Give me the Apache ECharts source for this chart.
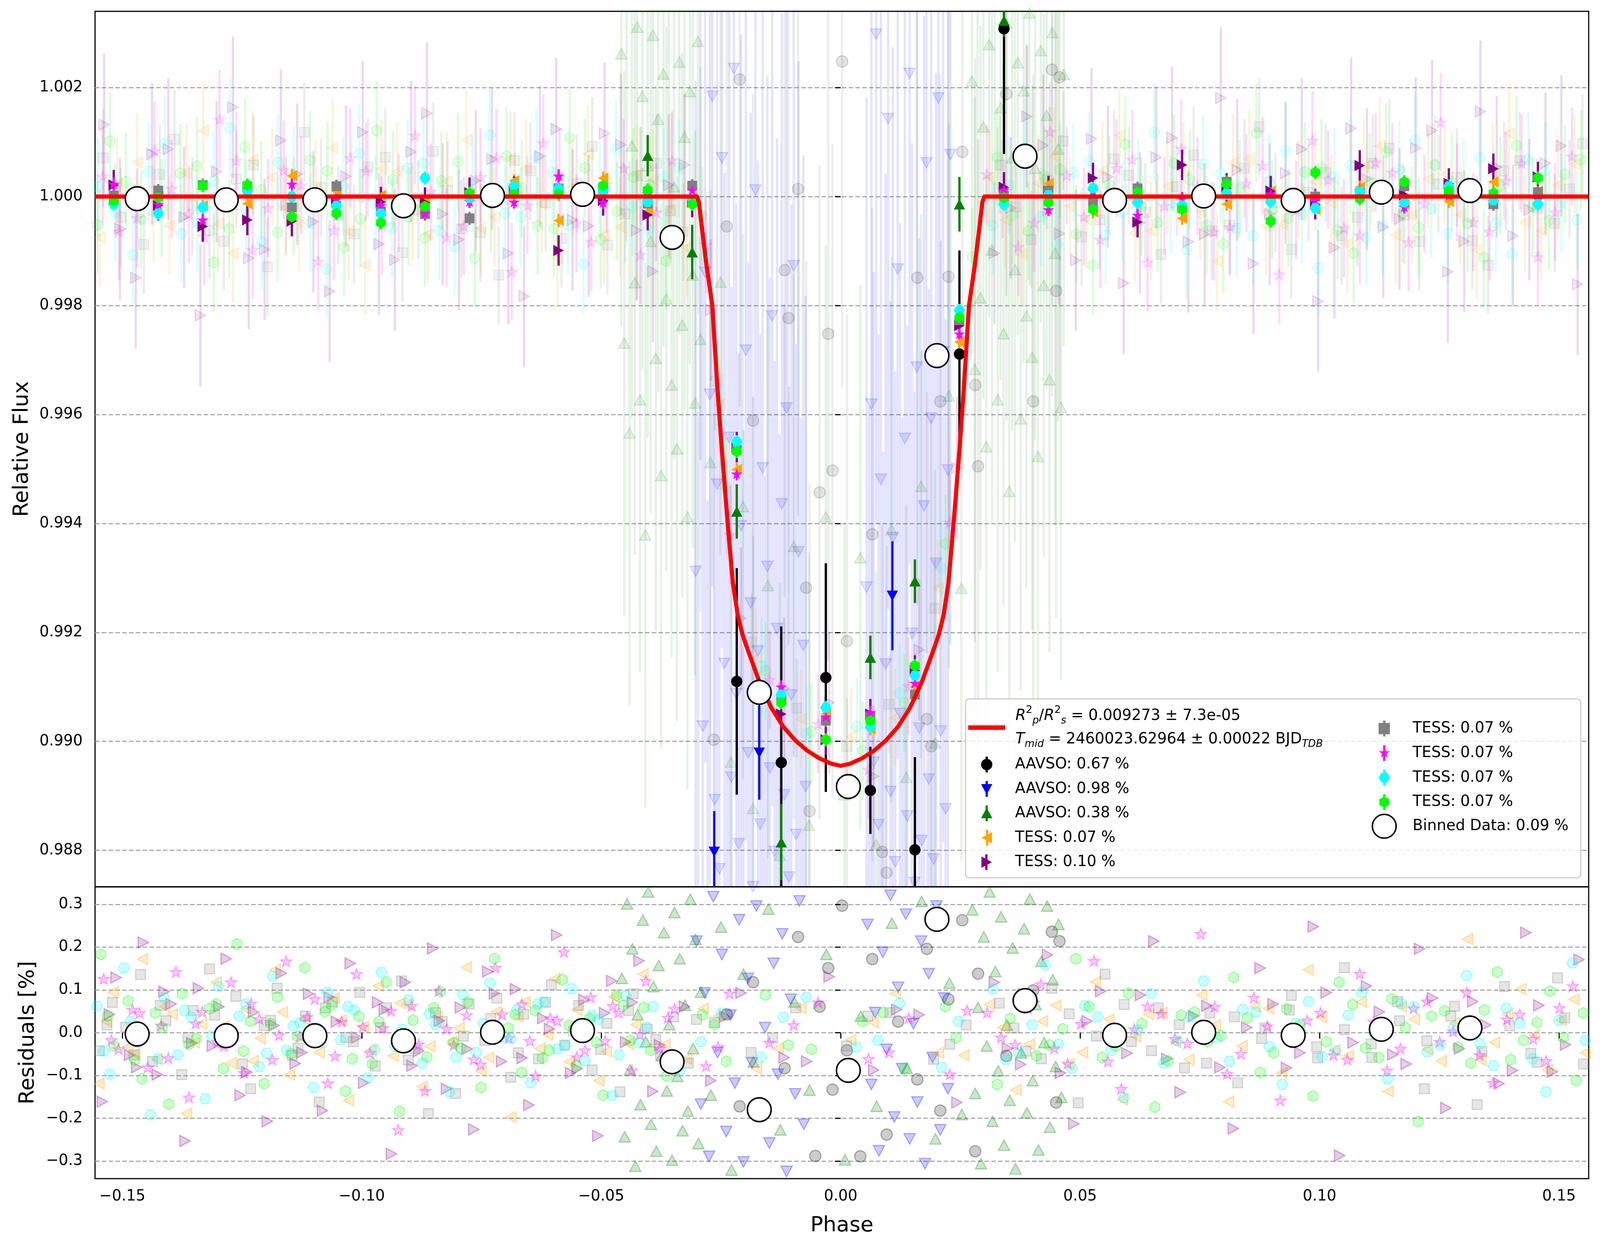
<!DOCTYPE html>
<html>
<head>
<meta charset="utf-8">
<title>Transit light curve</title>
<script src="https://cdn.jsdelivr.net/npm/echarts@6/dist/echarts.min.js"></script>
<style>
  html, body { margin: 0; padding: 0; background: #ffffff; overflow: hidden; }
</style>
</head>
<body>
<div id="chart"></div>
<script>
// ---------- values ----------
const xTicks = [-0.15, -0.10, -0.05, 0.00, 0.05, 0.10, 0.15];
const fluxTicks = [0.988, 0.990, 0.992, 0.994, 0.996, 0.998, 1.000, 1.002];
const residTicks = [-0.3, -0.2, -0.1, 0.0, 0.1, 0.2, 0.3];

const modelCurve = [
  [-0.1557, 1.00000], [-0.0300, 1.00000], [-0.0296, 0.99990], [-0.0290, 0.99945], [-0.0280, 0.99873],
  [-0.0268, 0.99800], [-0.0257, 0.99644], [-0.0248, 0.99535], [-0.0240, 0.99445], [-0.0232, 0.99360],
  [-0.0225, 0.99290], [-0.0215, 0.99232], [-0.0205, 0.99196], [-0.0194, 0.99168], [-0.0170, 0.99110],
  [-0.0145, 0.99062], [-0.0120, 0.99027], [-0.0095, 0.99002], [-0.0070, 0.98983], [-0.0045, 0.98969],
  [-0.0020, 0.98959], [0.0000, 0.98955], [0.0020, 0.98959], [0.0045, 0.98969], [0.0070, 0.98983],
  [0.0095, 0.99002], [0.0120, 0.99027], [0.0145, 0.99062], [0.0170, 0.99110], [0.0194, 0.99168],
  [0.0205, 0.99196], [0.0215, 0.99232], [0.0225, 0.99290], [0.0232, 0.99360], [0.0240, 0.99445],
  [0.0248, 0.99535], [0.0257, 0.99644], [0.0268, 0.99800], [0.0280, 0.99873], [0.0290, 0.99945],
  [0.0296, 0.99990], [0.0300, 1.00000], [0.1562, 1.00000]
];

// per-dataset binned points (TESS), shared phase grid
const binPhase = [-0.1518, -0.1425, -0.1332, -0.1239, -0.1146, -0.1053, -0.0960, -0.0868, -0.0775, -0.0682,
  -0.0589, -0.0496, -0.0403, -0.0310, -0.0217, -0.0124, -0.0031, 0.0062, 0.0155, 0.0248,
  0.0341, 0.0434, 0.0527, 0.0620, 0.0713, 0.0806, 0.0898, 0.0991, 0.1084, 0.1177,
  0.1270, 0.1363, 0.1456];
const greyBin = [1.00002, 1.00011, 1.00021, 1.00019, 0.99980, 1.00019, 0.99973, 0.99968, 0.99960, 1.00012,
  1.00015, 1.00014, 0.99987, 1.00020, 0.99535, 0.99075, 0.99038, 0.99045, 0.99086, 0.99773,
  1.00002, 1.00011, 0.99991, 1.00015, 0.99979, 1.00027, 0.99996, 1.00000, 1.00005, 1.00019,
  1.00010, 0.99986, 1.00008];
const magentaBin = [1.00023, 0.99986, 0.99957, 1.00012, 1.00023, 0.99995, 0.99984, 0.99969, 0.99991, 0.99990,
  1.00038, 0.99989, 1.00005, 1.00012, 0.99491, 0.99100, 0.99045, 0.99053, 0.99107, 0.99748,
  1.00012, 0.99976, 1.00010, 0.99966, 0.99996, 1.00020, 1.00005, 0.99993, 1.00012, 0.99981,
  1.00002, 0.99998, 0.99995];
const cyanBin = [0.99986, 0.99969, 0.99980, 1.00010, 1.00000, 0.99983, 0.99969, 1.00034, 0.99997, 1.00020,
  1.00014, 1.00011, 0.99990, 0.99995, 0.99550, 0.99086, 0.99062, 0.99027, 0.99121, 0.99791,
  0.99986, 1.00003, 1.00015, 0.99989, 0.99984, 1.00006, 0.99991, 0.99979, 1.00009, 0.99989,
  1.00019, 0.99993, 0.99986];
const limeBin = [0.99992, 0.99998, 1.00020, 1.00021, 0.99963, 0.99969, 0.99952, 0.99982, 1.00006, 1.00004,
  1.00004, 1.00020, 1.00012, 0.99986, 0.99532, 0.99071, 0.99003, 0.99038, 0.99139, 0.99778,
  0.99998, 0.99989, 0.99976, 1.00008, 0.99976, 1.00023, 0.99955, 1.00044, 0.99996, 1.00027,
  1.00010, 1.00006, 1.00034];
const orangeBin = [0.99995, 1.00000, 0.99983, 0.99987, 1.00038, 1.00010, 1.00002, 0.99995, 1.00005, 1.00029,
  0.99956, 1.00034, 0.99973, 0.99998, 0.99499, 0.99078, 0.99050, 0.99023, 0.99100, 0.99733,
  0.99990, 1.00024, 0.99972, 0.99996, 0.99960, 0.99986, 1.00010, 0.99976, 1.00017, 0.99986,
  0.99991, 1.00027, 1.00010];
const purpleBin = [1.00021, 0.99984, 0.99945, 0.99957, 0.99955, 0.99990, 0.99990, 0.99989, 1.00007, 1.00009,
  0.99901, 0.99993, 0.99966, 0.99990, 0.99540, 0.99050, 0.99003, 0.99050, 0.99130, 0.99763,
  1.00017, 1.00010, 1.00034, 0.99953, 1.00058, 1.00015, 1.00010, 0.99986, 1.00057, 1.00003,
  1.00024, 1.00051, 1.00036];

// AAVSO binned points: [phase, flux, error]
const aavsoBlackBin = [[-0.0217, 0.99110, 0.00208], [-0.0124, 0.98961, 0.0025], [-0.0031, 0.99117, 0.0021],
  [0.0062, 0.98910, 0.0008], [0.0155, 0.98801, 0.0017], [0.0248, 0.99711, 0.0019], [0.0341, 1.00308, 0.0023]];
const aavsoBlueBin = [[-0.0264, 0.98797, 0.00075], [-0.0170, 0.98979, 0.00086], [0.0108, 0.99267, 0.0010]];
const aavsoGreenBin = [[-0.0403, 1.00075, 0.00038], [-0.0310, 0.99898, 0.0005], [-0.0217, 0.99422, 0.0005],
  [-0.0124, 0.98815, 0.0007], [0.0062, 0.99154, 0.0004], [0.0155, 0.99294, 0.0004],
  [0.0248, 0.99986, 0.0005], [0.0341, 1.00323, 0.0003]];

// all-data bins (white circles)
const binnedPhase = [-0.1469, -0.1283, -0.1098, -0.0913, -0.0727, -0.0539, -0.0352, -0.0170,
  0.0016, 0.0201, 0.0385, 0.0572, 0.0758, 0.0945, 0.1129, 0.1314];
const binnedFlux = [0.99996, 0.99994, 0.99994, 0.99983, 1.00002, 1.00004, 0.99925, 0.99090,
  0.98917, 0.99708, 1.00074, 0.99993, 1.00001, 0.99993, 1.00008, 1.00011];
const binnedErr = [0.00005, 0.00005, 0.00005, 0.00005, 0.00005, 0.00005, 0.0001, 0.00025,
  0.0002, 0.00018, 0.0002, 0.00005, 0.00005, 0.00005, 0.00005, 0.00005];
const binnedResid = [-0.003, -0.007, -0.007, -0.019, 0.001, 0.005, -0.068, -0.180,
  -0.088, 0.265, 0.075, -0.006, 0.001, -0.006, 0.008, 0.011];

// unbinned observations, top panel: [phase, flux]
const greyRaw = [[-0.1540,1.00071],[-0.1455,0.99912],[-0.1391,1.00105],[-0.1318,0.99938],[-0.1262,1.00032],[-0.1197,0.99871],
  [-0.1120,1.00118],[-0.1049,0.99966],[-0.0987,1.00054],[-0.0915,0.99897],[-0.0851,1.00083],[-0.0792,0.99941],[-0.0714,0.99856],
  [-0.0648,1.00047],[-0.0583,0.99923],[-0.0519,1.00092],[-0.0450,0.99968],[-0.0384,1.00061],[-0.0329,0.99935],[-0.0262,0.99661],
  [-0.0186,0.99182],[-0.0092,0.99061],[0.0013,0.98991],[0.0101,0.99068],[0.0196,0.99244],[0.0262,0.99709],[0.0333,1.00058],
  [0.0398,0.99921],[0.0465,1.00102],[0.0541,0.99957],[0.0602,1.00039],[0.0669,0.99894],[0.0737,1.00076],[0.0812,0.99948],
  [0.0874,1.00128],[0.0941,0.99903],[0.1013,1.00044],[0.1079,0.99962],[0.1146,1.00089],[0.1208,0.99918],[0.1287,1.00035],
  [0.1352,0.99874],[0.1418,1.00066],[0.1491,0.99951],[0.1549,1.00097],
  [-0.1503,0.99962],[-0.1422,1.00041],[-0.1354,0.99983],[-0.1288,0.99918],[-0.1226,1.00058],[-0.1158,0.99984],[-0.1085,1.00017],
  [-0.1016,0.99931],[-0.0951,1.00072],[-0.0882,0.99976],[-0.0821,1.00011],[-0.0752,0.99934],[-0.0681,1.00066],[-0.0616,0.99989],
  [-0.0551,1.00024],[-0.0487,0.99911],[-0.0417,1.00038],[-0.0355,0.99974],[0.0366,0.99981],[0.0431,1.00031],[0.0503,0.99926],
  [0.0571,1.00069],[0.0636,0.99971],[0.0702,1.00018],[0.0775,0.99937],[0.0843,1.00052],[0.0908,0.99989],[0.0977,1.00008],
  [0.1046,0.99928],[0.1111,1.00061],[0.1177,0.99966],[0.1248,1.00023],[0.1319,0.99919],[0.1385,1.00047],[0.1455,0.99979],
  [0.1522,1.00014]];
const magentaRaw = [[-0.1507,0.99936],[-0.1433,1.00084],[-0.1361,0.99968],[-0.1297,1.00142],[-0.1228,0.99902],[-0.1163,1.00049],
  [-0.1091,0.99881],[-0.1024,1.00071],[-0.0958,0.99947],[-0.0889,1.00112],[-0.0823,0.99925],[-0.0752,1.00036],[-0.0687,0.99862],
  [-0.0621,1.00098],[-0.0552,0.99951],[-0.0489,1.00023],[-0.0418,0.99893],[-0.0352,1.00067],[-0.0281,0.99912],[-0.0231,0.99379],
  [-0.0148,0.99113],[-0.0047,0.99032],[0.0058,0.98948],[0.0142,0.99101],[0.0228,0.99402],[0.0305,1.00041],[0.0371,0.99908],
  [0.0437,1.00119],[0.0508,0.99963],[0.0576,1.00052],[0.0641,0.99879],[0.0711,1.00088],[0.0779,0.99935],[0.0847,1.00024],
  [0.0916,0.99857],[0.0985,1.00103],[0.1051,0.99942],[0.1117,1.00063],[0.1186,0.99916],[0.1253,1.00136],[0.1321,0.99953],
  [0.1389,1.00029],[0.1456,0.99889],[0.1527,1.00074],
  [-0.1541,1.00037],[-0.1469,0.99961],[-0.1397,1.00014],[-0.1329,0.99927],[-0.1262,1.00066],[-0.1196,0.99979],[-0.1127,1.00021],
  [-0.1058,0.99938],[-0.0991,1.00047],[-0.0923,0.99988],[-0.0856,1.00009],[-0.0787,0.99946],[-0.0719,1.00071],[-0.0654,0.99984],
  [-0.0587,1.00035],[-0.0521,0.99917],[-0.0453,1.00052],[-0.0385,0.99971],[0.0338,1.00013],[0.0404,0.99952],[0.0472,1.00039],
  [0.0542,0.99921],[0.0609,1.00068],[0.0676,0.99983],[0.0745,1.00019],[0.0813,0.99944],[0.0881,1.00057],[0.0951,0.99975],
  [0.1018,1.00031],[0.1084,0.99929],[0.1152,1.00044],[0.1219,0.99987],[0.1287,1.00008],[0.1355,0.99936],[0.1422,1.00061],
  [0.1492,0.99972]];
const cyanRaw = [[-0.1551,1.00018],[-0.1478,0.99893],[-0.1412,1.00097],[-0.1343,0.99951],[-0.1275,1.00126],[-0.1209,0.99917],
  [-0.1142,1.00038],[-0.1073,0.99867],[-0.1005,1.00079],[-0.0937,0.99942],[-0.0871,1.00061],[-0.0806,0.99908],[-0.0733,1.00113],
  [-0.0669,0.99962],[-0.0601,1.00045],[-0.0537,0.99876],[-0.0469,1.00087],[-0.0401,0.99939],[-0.0338,1.00052],[-0.0248,0.99583],
  [-0.0165,0.99138],[-0.0071,0.99014],[0.0034,0.99027],[0.0123,0.99089],[0.0211,0.99318],[0.0317,0.99947],[0.0384,1.00091],
  [0.0452,0.99912],[0.0519,1.00065],[0.0588,0.99971],[0.0655,1.00118],[0.0722,0.99903],[0.0793,1.00042],[0.0861,0.99928],
  [0.0929,1.00084],[0.0997,0.99869],[0.1064,1.00057],[0.1132,0.99946],[0.1199,1.00103],[0.1268,0.99932],[0.1334,1.00071],
  [0.1402,0.99895],[0.1471,1.00048],[0.1538,0.99957],
  [-0.1515,0.99971],[-0.1445,1.00046],[-0.1377,0.99932],[-0.1309,1.00028],[-0.1242,0.99978],[-0.1175,1.00063],[-0.1107,0.99951],
  [-0.1039,1.00019],[-0.0971,0.99986],[-0.0904,1.00052],[-0.0838,0.99937],[-0.0769,1.00024],[-0.0701,0.99969],[-0.0635,1.00071],
  [-0.0569,0.99948],[-0.0503,1.00012],[-0.0435,0.99981],[-0.0369,1.00036],[0.0351,1.00021],[0.0418,0.99963],[0.0486,1.00044],
  [0.0553,0.99929],[0.0621,1.00016],[0.0689,0.99985],[0.0757,1.00059],[0.0827,0.99942],[0.0895,1.00027],[0.0963,0.99968],
  [0.1031,1.00036],[0.1098,0.99924],[0.1166,1.00049],[0.1233,0.99977],[0.1301,1.00012],[0.1368,0.99951],[0.1436,1.00067],
  [0.1505,0.99988]];
const limeRaw = [[-0.1526,1.00102],[-0.1461,0.99958],[-0.1379,1.00043],[-0.1309,0.99879],[-0.1244,1.00091],[-0.1176,0.99934],
  [-0.1108,1.00067],[-0.1037,0.99906],[-0.0969,1.00121],[-0.0902,0.99963],[-0.0834,1.00029],[-0.0764,0.99887],[-0.0698,1.00074],
  [-0.0633,0.99946],[-0.0566,1.00108],[-0.0501,0.99921],[-0.0433,1.00036],[-0.0365,0.99882],[-0.0289,0.99964],[-0.0239,0.99467],
  [-0.0157,0.99129],[-0.0061,0.99018],[0.0046,0.98983],[0.0133,0.99071],[0.0219,0.99363],[0.0275,0.99889],[0.0327,1.00072],
  [0.0392,0.99937],[0.0458,1.00049],[0.0527,0.99874],[0.0594,1.00096],[0.0662,0.99952],[0.0729,1.00031],[0.0799,0.99913],
  [0.0868,1.00117],[0.0935,0.99961],[0.1004,1.00053],[0.1071,0.99896],[0.1139,1.00082],[0.1207,0.99943],[0.1276,1.00026],
  [0.1343,0.99888],[0.1411,1.00094],[0.1479,0.99956],[0.1546,1.00068],
  [-0.1552,0.99948],[-0.1493,1.00027],[-0.1418,0.99979],[-0.1344,1.00056],[-0.1277,0.99941],[-0.1210,1.00012],[-0.1142,0.99982],
  [-0.1072,1.00047],[-0.1003,0.99959],[-0.0935,1.00031],[-0.0868,0.99924],[-0.0799,1.00064],[-0.0731,0.99987],[-0.0666,1.00016],
  [-0.0599,0.99941],[-0.0534,1.00053],[-0.0467,0.99973],[-0.0399,1.00022],[0.0359,0.99966],[0.0425,1.00038],[0.0492,0.99931],
  [0.0561,1.00021],[0.0628,0.99982],[0.0696,1.00061],[0.0764,0.99947],[0.0833,1.00014],[0.0901,0.99976],[0.0969,1.00045],
  [0.1038,0.99938],[0.1105,1.00027],[0.1173,0.99969],[0.1241,1.00058],[0.1309,0.99951],[0.1377,1.00019],[0.1445,0.99982],
  [0.1512,1.00041]];
const orangeRaw = [[-0.1547,0.99925],[-0.1469,1.00063],[-0.1402,0.99947],[-0.1331,1.00121],[-0.1269,0.99896],[-0.1187,1.00035],
  [-0.1131,0.99953],[-0.1061,1.00089],[-0.0993,0.99874],[-0.0926,1.00046],[-0.0862,0.99931],[-0.0781,1.00104],[-0.0723,0.99962],
  [-0.0657,1.00052],[-0.0592,0.99887],[-0.0528,1.00078],[-0.0461,0.99944],[-0.0392,1.00031],[-0.0321,0.99906],[-0.0254,0.99618],
  [-0.0177,0.99154],[-0.0083,0.99041],[0.0022,0.99009],[0.0114,0.99043],[0.0203,0.99281],[0.0311,1.00035],[0.0378,0.99894],
  [0.0446,1.00073],[0.0513,0.99958],[0.0582,1.00112],[0.0648,0.99937],[0.0716,1.00048],[0.0786,0.99881],[0.0853,1.00069],
  [0.0922,0.99949],[0.0991,1.00027],[0.1058,0.99913],[0.1126,1.00093],[0.1193,0.99965],[0.1261,1.00041],[0.1328,0.99902],
  [0.1396,1.00116],[0.1463,0.99938],[0.1533,1.00059],
  [-0.1511,1.00022],[-0.1435,0.99968],[-0.1366,1.00043],[-0.1300,0.99951],[-0.1228,1.00067],[-0.1159,0.99981],[-0.1096,1.00014],
  [-0.1027,0.99936],[-0.0959,1.00051],[-0.0894,0.99973],[-0.0822,1.00028],[-0.0752,0.99942],[-0.0690,1.00069],[-0.0624,0.99986],
  [-0.0560,1.00017],[-0.0494,0.99929],[-0.0426,1.00041],[-0.0357,0.99976],[0.0344,0.99957],[0.0412,1.00024],[0.0479,0.99982],
  [0.0547,1.00048],[0.0615,0.99934],[0.0682,1.00019],[0.0751,0.99973],[0.0819,1.00062],[0.0888,0.99946],[0.0956,1.00013],
  [0.1024,0.99988],[0.1092,1.00054],[0.1159,0.99929],[0.1227,1.00032],[0.1294,0.99967],[0.1362,1.00046],[0.1429,0.99953],
  [0.1498,1.00021]];
const purpleRaw = [[-0.1538,1.00132],[-0.1472,0.99851],[-0.1404,1.00087],[-0.1337,0.99782],[-0.1269,1.00164],[-0.1203,0.99903],
  [-0.1135,1.00041],[-0.1067,0.99826],[-0.0998,1.00118],[-0.0931,0.99884],[-0.0864,1.00153],[-0.0797,0.99921],[-0.0728,1.00069],
  [-0.0661,0.99817],[-0.0594,1.00124],[-0.0526,0.99946],[-0.0459,1.00095],[-0.0392,0.99863],[-0.0326,1.00058],[-0.0271,0.99792],
  [-0.0208,0.99226],[-0.0118,0.99097],[-0.0024,0.99071],[0.0069,0.98936],[0.0164,0.99168],[0.0243,0.99502],[0.0321,0.99896],
  [0.0389,1.00147],[0.0457,0.99932],[0.0524,1.00106],[0.0591,0.99841],[0.0659,1.00072],[0.0726,0.99917],[0.0794,1.00181],
  [0.0862,0.99877],[0.0929,1.00043],[0.0997,0.99808],[0.1066,1.00125],[0.1133,0.99944],[0.1201,1.00089],[0.1268,0.99862],
  [0.1336,1.00156],[0.1404,0.99928],[0.1472,1.00061],[0.1539,0.99839],
  [-0.1505,0.99941],[-0.1438,1.00078],[-0.1371,0.99962],[-0.1303,1.00046],[-0.1236,0.99887],[-0.1169,1.00103],[-0.1101,0.99954],
  [-0.1033,1.00037],[-0.0964,0.99913],[-0.0897,1.00082],[-0.0831,0.99968],[-0.0762,1.00029],[-0.0694,0.99896],[-0.0628,1.00074],
  [-0.0560,0.99957],[-0.0493,1.00116],[-0.0426,0.99938],[-0.0359,1.00021],[0.0355,0.99979],[0.0423,1.00094],[0.0491,0.99883],
  [0.0558,1.00036],[0.0625,0.99952],[0.0692,1.00108],[0.0760,0.99931],[0.0828,1.00049],[0.0896,0.99968],[0.0963,1.00087],
  [0.1031,0.99906],[0.1099,1.00032],[0.1167,0.99959],[0.1235,1.00121],[0.1302,0.99918],[0.1370,1.00054],[0.1438,0.99976],
  [0.1505,1.00093]];
const aavsoBlackRaw = [[0.0003,1.00248],[-0.0211,1.00215],[-0.0089,1.00014],[-0.0117,0.99865],[-0.0109,0.99777],[-0.0026,0.99748],
  [0.0254,1.00082],[0.0346,1.00188],[0.0441,1.00233],[0.0457,1.00219],[0.0450,0.99827],[0.0402,0.99624],[0.0281,0.99654],
  [0.0225,0.99853],[0.0160,0.99851],[0.0208,0.99624],[-0.0238,0.99945],[-0.0183,0.99589],[-0.0017,0.99497],[-0.0044,0.99457],
  [-0.0072,0.99282],[-0.0265,0.99003],[-0.0065,0.98872],[0.0066,0.99380],[0.0013,0.99184],[0.0087,0.98797],[0.0096,0.98759],
  [0.0180,0.99041],[0.0189,0.98991],[0.0287,0.99505]];
const aavsoBlueRaw = [[-0.0303,0.99312],[-0.0298,0.98705],[-0.0293,1.00417],[-0.0288,0.99028],[-0.0283,0.99861],[-0.0278,0.98542],
  [-0.0273,0.99637],[-0.0268,1.00184],[-0.0263,0.98893],[-0.0258,0.99472],[-0.0253,0.98766],[-0.0248,1.00071],[-0.0243,0.99143],
  [-0.0238,0.98617],[-0.0233,0.99558],[-0.0228,0.98934],[-0.0223,1.00235],[-0.0218,0.99087],[-0.0213,0.98812],[-0.0208,0.99396],
  [-0.0203,0.98671],[-0.0198,0.99718],[-0.0193,0.98979],[-0.0188,0.99254],[-0.0183,0.98733],[-0.0178,1.00012],[-0.0173,0.99166],
  [-0.0168,0.98848],[-0.0163,0.99502],[-0.0158,0.98587],[-0.0153,0.99321],[-0.0148,0.98951],[-0.0143,0.99781],[-0.0138,0.98798],
  [-0.0133,0.99207],[-0.0128,0.98664],[-0.0123,0.99436],[-0.0118,0.98902],[-0.0113,0.99612],[-0.0108,0.98751],[-0.0103,0.99085],
  [-0.0098,0.99873],[-0.0093,0.98829],[-0.0088,0.99348],[-0.0083,0.98694],[-0.0078,0.99176],[-0.0073,0.98917],
  [0.0054,0.99283],[0.0059,0.98716],[0.0064,0.99619],[0.0069,0.98962],[0.0074,1.00298],[0.0079,0.98847],[0.0084,0.99481],
  [0.0089,0.98632],[0.0094,0.99142],[0.0099,1.00143],[0.0104,0.98908],[0.0109,0.99374],[0.0114,0.98779],[0.0119,0.99867],
  [0.0124,0.99051],[0.0129,0.98694],[0.0134,0.99556],[0.0139,0.98863],[0.0144,1.00226],[0.0149,0.99198],[0.0154,0.98741],
  [0.0159,0.99687],[0.0164,0.99024],[0.0169,0.98818],[0.0174,0.99432],[0.0179,1.00062],[0.0184,0.98931],[0.0189,0.99593],
  [0.0194,0.98784],[0.0199,0.99327],[0.0204,1.00181],[0.0209,0.99019],[0.0214,0.99715],[0.0219,0.98876],[0.0224,0.99498],
  [0.0229,1.00077]];
const aavsoGreenRaw = [[-0.0458,1.00262],[-0.0452,0.99731],[-0.0447,1.00418],[-0.0441,0.99566],[-0.0436,1.00093],[-0.0430,0.99842],
  [-0.0425,1.00311],[-0.0419,0.99627],[-0.0414,1.00184],[-0.0408,0.99379],[-0.0403,1.00057],[-0.0397,0.99918],[-0.0392,1.00296],
  [-0.0386,0.99703],[-0.0381,1.00142],[-0.0375,0.99488],[-0.0370,1.00225],[-0.0364,0.99812],[-0.0359,1.00371],[-0.0353,0.99654],
  [-0.0348,1.00018],[-0.0342,0.99537],[-0.0337,1.00247],[-0.0331,0.99764],[-0.0326,1.00109],[-0.0320,0.99412],[-0.0315,1.00193],
  [-0.0309,0.99856],[-0.0304,0.99621],[-0.0298,1.00285],[-0.0293,0.99738],
  [-0.0272,0.99512],[-0.0251,0.99843],[-0.0229,0.98962],[-0.0204,0.99431],[-0.0183,0.98877],[-0.0152,0.99286],[-0.0127,0.98791],
  [-0.0098,0.99358],[-0.0066,0.98846],[-0.0031,0.99412],[0.0008,0.98902],[0.0041,0.99337],[0.0074,0.98811],[0.0106,0.99389],
  [0.0137,0.98934],[0.0168,0.99468],[0.0197,0.98997],[0.0226,0.99634],[0.0252,0.99281],
  [0.0274,1.00212],[0.0280,0.99683],[0.0286,1.00357],[0.0292,0.99814],[0.0298,1.00128],[0.0304,0.99541],[0.0310,1.00279],
  [0.0316,0.99902],[0.0322,1.00406],[0.0328,0.99627],[0.0334,1.00163],[0.0340,0.99748],[0.0346,1.00318],[0.0352,0.99459],
  [0.0358,1.00071],[0.0364,0.99866],[0.0370,1.00246],[0.0376,0.99592],[0.0382,1.00194],[0.0388,0.99781],[0.0394,1.00337],
  [0.0400,0.99705],[0.0406,1.00052],[0.0412,0.99523],[0.0418,1.00268],[0.0424,0.99837],[0.0430,1.00149],[0.0436,0.99664],
  [0.0442,1.00301],[0.0448,0.99896],[0.0454,1.00087],[0.0460,0.99613],[0.0466,1.00224]];

// residuals of the unbinned observations: [phase, residual %]
const greyRes = [[-0.1548,-0.042],[-0.1521,0.071],[-0.1493,0.013],[-0.1462,0.136],[-0.1437,-0.067],[-0.1409,0.028],[-0.1376,-0.098],
  [-0.1352,0.052],[-0.1318,0.149],[-0.1291,-0.024],[-0.1263,0.085],[-0.1232,-0.131],[-0.1204,0.017],[-0.1177,0.104],[-0.1145,-0.053],
  [-0.1118,0.039],[-0.1089,-0.162],[-0.1061,0.072],[-0.1033,-0.011],[-0.1004,0.094],[-0.0972,-0.078],[-0.0948,0.058],[-0.0917,0.121],
  [-0.0889,-0.037],[-0.0861,-0.189],[-0.0832,0.026],[-0.0804,-0.142],[-0.0776,0.067],[-0.0743,-0.018],[-0.0718,0.081],[-0.0689,-0.104],
  [-0.0662,0.043],[-0.0631,-0.061],[-0.0604,0.112],[-0.0576,-0.029],[-0.0547,0.064],[-0.0519,-0.087],[-0.0488,0.022],[-0.0461,-0.138],
  [-0.0433,0.091],[-0.0404,0.009],[-0.0376,-0.052],[-0.0349,0.037],[-0.0318,-0.071],[-0.0263,0.024],[-0.0187,-0.046],[-0.0094,0.058],
  [0.0012,-0.031],[0.0103,0.047],[0.0194,-0.062],[0.0262,0.018],[0.0331,0.069],[0.0387,-0.043],[0.0441,0.104],[0.0496,-0.164],
  [0.0552,0.137],[0.0607,-0.021],[0.0663,0.058],[0.0718,-0.082],[0.0771,0.046],[0.0829,-0.117],[0.0886,0.011],[0.0941,0.087],
  [0.0996,-0.059],[0.1052,0.152],[0.1108,-0.026],[0.1163,0.073],[0.1219,-0.131],[0.1274,0.039],[0.1329,-0.168],[0.1386,0.108],
  [0.1441,-0.048],[0.1497,0.128],[0.1551,-0.073],
  [-0.1532,0.018],[-0.1476,-0.052],[-0.1421,0.064],[-0.1363,-0.011],[-0.1307,0.041],[-0.1249,-0.073],[-0.1191,0.029],[-0.1133,-0.036],
  [-0.1076,0.058],[-0.1018,-0.021],[-0.0961,0.012],[-0.0903,-0.064],[-0.0846,0.047],[-0.0788,-0.008],[-0.0731,0.033],[-0.0673,-0.047],
  [-0.0616,0.071],[-0.0558,0.004],[-0.0501,-0.039],[-0.0443,0.052],[-0.0386,-0.016],[-0.0301,0.031],[-0.0142,-0.012],[0.0057,0.039],
  [0.0228,-0.027],[0.0362,0.011],[0.0419,-0.061],[0.0477,0.044],[0.0534,-0.008],[0.0592,0.066],[0.0649,-0.042],[0.0707,0.019],
  [0.0764,-0.071],[0.0822,0.037],[0.0879,-0.014],[0.0937,0.053],[0.0994,-0.033],[0.1052,0.007],[0.1109,-0.058],[0.1167,0.028],
  [0.1224,-0.019],[0.1282,0.062],[0.1339,-0.044],[0.1397,0.016],[0.1454,-0.069],[0.1512,0.035]];
const magentaRes = [[-0.1539,0.126],[-0.1508,-0.038],[-0.1479,0.054],[-0.1447,-0.081],[-0.1419,0.017],[-0.1388,0.142],[-0.1361,-0.151],
  [-0.1333,0.049],[-0.1302,-0.022],[-0.1273,0.118],[-0.1246,-0.094],[-0.1214,0.032],[-0.1187,-0.063],[-0.1158,0.167],[-0.1129,-0.008],
  [-0.1098,0.079],[-0.1071,-0.118],[-0.1042,0.026],[-0.1011,0.137],[-0.0983,-0.047],[-0.0956,0.011],[-0.0924,-0.227],[-0.0896,0.063],
  [-0.0868,-0.136],[-0.0839,0.098],[-0.0808,-0.029],[-0.0781,0.041],[-0.0752,-0.074],[-0.0721,0.152],[-0.0693,-0.012],[-0.0666,0.067],
  [-0.0637,-0.101],[-0.0606,0.034],[-0.0578,0.189],[-0.0551,-0.057],[-0.0522,0.083],[-0.0492,-0.019],[-0.0464,0.047],[-0.0436,-0.088],
  [-0.0407,0.121],[-0.0378,-0.037],[-0.0347,0.056],[-0.0281,-0.078],[-0.0232,0.092],[-0.0149,-0.023],[-0.0047,0.071],[0.0058,-0.061],
  [0.0142,0.034],[0.0228,-0.097],[0.0306,0.047],[0.0364,-0.028],[0.0418,0.113],[0.0474,-0.072],[0.0529,0.168],[0.0586,-0.131],
  [0.0641,0.062],[0.0698,-0.014],[0.0752,0.231],[0.0807,-0.096],[0.0863,0.082],[0.0918,-0.158],[0.0974,0.029],[0.1029,-0.052],
  [0.1084,0.138],[0.1141,-0.088],[0.1196,0.057],[0.1251,-0.021],[0.1307,0.094],[0.1362,-0.117],[0.1418,0.043],[0.1473,-0.066],
  [0.1529,0.109],
  [-0.1523,-0.017],[-0.1464,0.046],[-0.1404,-0.059],[-0.1347,0.022],[-0.1288,-0.031],[-0.1231,0.068],[-0.1173,-0.006],[-0.1114,0.037],
  [-0.1056,-0.054],[-0.0998,0.014],[-0.0939,0.051],[-0.0881,-0.027],[-0.0823,0.009],[-0.0766,-0.062],[-0.0707,0.043],[-0.0649,-0.019],
  [-0.0592,0.028],[-0.0534,-0.041],[-0.0476,0.063],[-0.0419,-0.004],[-0.0361,0.035],[-0.0256,-0.033],[-0.0098,0.018],[0.0101,-0.046],
  [0.0264,0.052],[0.0335,-0.011],[0.0391,0.057],[0.0446,-0.036],[0.0502,0.021],[0.0558,-0.067],[0.0613,0.008],[0.0669,0.044],
  [0.0724,-0.025],[0.0781,0.061],[0.0836,-0.049],[0.0891,0.015],[0.0947,-0.008],[0.1002,0.047],[0.1058,-0.063],[0.1113,0.026],
  [0.1169,-0.037],[0.1224,0.073],[0.1279,0.003],[0.1334,-0.052],[0.1391,0.031],[0.1446,-0.014],[0.1501,0.058]];
const cyanRes = [[-0.1553,0.062],[-0.1526,-0.097],[-0.1497,0.151],[-0.1469,-0.023],[-0.1441,-0.192],[-0.1412,0.081],[-0.1384,-0.052],
  [-0.1356,0.036],[-0.1327,-0.154],[-0.1299,0.108],[-0.1271,-0.011],[-0.1242,0.067],[-0.1214,-0.079],[-0.1186,0.132],[-0.1157,-0.041],
  [-0.1129,0.023],[-0.1101,-0.128],[-0.1072,0.094],[-0.1044,-0.017],[-0.1016,0.053],[-0.0987,-0.106],[-0.0959,0.141],[-0.0931,-0.032],
  [-0.0902,0.077],[-0.0874,-0.071],[-0.0846,0.019],[-0.0817,-0.138],[-0.0789,0.089],[-0.0761,-0.046],[-0.0732,0.116],[-0.0704,-0.009],
  [-0.0676,0.054],[-0.0647,-0.117],[-0.0619,0.072],[-0.0591,-0.038],[-0.0562,0.103],[-0.0534,-0.066],[-0.0506,0.031],[-0.0477,-0.147],
  [-0.0449,0.086],[-0.0421,-0.024],[-0.0392,0.061],[-0.0336,-0.089],[-0.0249,0.046],[-0.0166,-0.057],[-0.0072,0.083],[0.0033,-0.034],
  [0.0123,0.069],[0.0211,-0.081],[0.0318,0.102],[0.0372,-0.046],[0.0428,0.158],[0.0483,-0.083],[0.0537,0.037],[0.0592,-0.152],
  [0.0648,0.091],[0.0703,-0.019],[0.0758,0.121],[0.0812,-0.067],[0.0867,0.048],[0.0922,-0.121],[0.0977,0.073],[0.1032,-0.042],
  [0.1088,0.094],[0.1142,-0.108],[0.1197,0.061],[0.1252,-0.029],[0.1307,0.133],[0.1363,-0.077],[0.1418,0.022],[0.1473,-0.138],
  [0.1528,0.163],
  [-0.1539,-0.043],[-0.1483,0.027],[-0.1426,-0.061],[-0.1370,0.052],[-0.1313,-0.007],[-0.1256,0.039],[-0.1199,-0.048],[-0.1143,0.016],
  [-0.1086,-0.024],[-0.1029,0.061],[-0.0973,-0.039],[-0.0916,0.008],[-0.0859,0.044],[-0.0803,-0.057],[-0.0746,0.021],[-0.0689,-0.013],
  [-0.0633,0.067],[-0.0576,-0.029],[-0.0519,0.041],[-0.0463,-0.052],[-0.0406,0.013],[-0.0292,-0.021],[-0.0119,0.036],[0.0078,-0.018],
  [0.0246,0.027],[0.0345,-0.063],[0.0400,0.019],[0.0455,-0.027],[0.0510,0.063],[0.0565,-0.041],[0.0620,0.006],[0.0675,-0.071],
  [0.0730,0.037],[0.0785,-0.012],[0.0840,0.054],[0.0895,-0.033],[0.0950,0.022],[0.1005,-0.056],[0.1060,0.041],[0.1115,-0.004],
  [0.1170,0.068],[0.1225,-0.045],[0.1280,0.012],[0.1335,-0.026],[0.1390,0.057],[0.1445,-0.061],[0.1500,0.029],[0.1555,-0.018]];
const limeRes = [[-0.1545,0.183],[-0.1517,-0.031],[-0.1488,0.074],[-0.1459,-0.108],[-0.1431,0.046],[-0.1403,-0.167],[-0.1375,0.091],
  [-0.1346,-0.014],[-0.1318,0.056],[-0.1289,-0.084],[-0.1261,0.207],[-0.1233,0.027],[-0.1204,-0.119],[-0.1176,0.083],[-0.1148,-0.049],
  [-0.1119,0.152],[-0.1091,-0.011],[-0.1063,0.064],[-0.1034,-0.137],[-0.1006,0.038],[-0.0978,-0.072],[-0.0949,0.118],[-0.0921,-0.184],
  [-0.0893,0.029],[-0.0864,-0.057],[-0.0836,0.096],[-0.0808,-0.023],[-0.0779,0.071],[-0.0751,-0.128],[-0.0723,0.173],[-0.0694,0.011],
  [-0.0666,-0.093],[-0.0638,0.052],[-0.0609,-0.041],[-0.0581,0.124],[-0.0553,-0.077],[-0.0524,0.033],[-0.0496,-0.146],[-0.0468,0.087],
  [-0.0439,-0.018],[-0.0411,0.059],[-0.0363,-0.101],[-0.0289,0.042],[-0.0239,-0.067],[-0.0157,0.088],[-0.0061,-0.039],[0.0046,0.026],
  [0.0133,-0.084],[0.0219,0.061],[0.0327,-0.121],[0.0381,0.074],[0.0436,-0.029],[0.0491,0.173],[0.0546,-0.058],[0.0601,0.092],
  [0.0656,-0.174],[0.0711,0.041],[0.0766,-0.021],[0.0821,0.129],[0.0876,-0.093],[0.0931,0.056],[0.0986,-0.148],[0.1041,0.118],
  [0.1096,-0.036],[0.1151,0.079],[0.1206,-0.208],[0.1261,0.051],[0.1316,-0.071],[0.1371,0.142],[0.1426,-0.018],[0.1481,0.097],
  [0.1536,-0.112],
  [-0.1531,0.039],[-0.1474,-0.064],[-0.1417,0.012],[-0.1361,-0.027],[-0.1304,0.067],[-0.1247,-0.043],[-0.1190,0.021],[-0.1134,-0.009],
  [-0.1077,0.049],[-0.1020,-0.061],[-0.0964,0.026],[-0.0907,-0.018],[-0.0850,0.058],[-0.0793,-0.036],[-0.0737,0.007],[-0.0680,0.042],
  [-0.0623,-0.059],[-0.0567,0.017],[-0.0510,-0.023],[-0.0453,0.064],[-0.0397,-0.041],[-0.0264,0.019],[-0.0109,-0.029],[0.0089,0.047],
  [0.0241,-0.012],[0.0354,0.033],[0.0409,-0.054],[0.0464,0.009],[0.0519,0.061],[0.0574,-0.031],[0.0629,0.021],[0.0684,-0.066],
  [0.0739,0.048],[0.0794,-0.007],[0.0849,0.034],[0.0904,-0.047],[0.0959,0.017],[0.1014,-0.021],[0.1069,0.066],[0.1124,-0.058],
  [0.1179,0.012],[0.1234,0.039],[0.1289,-0.034],[0.1344,0.053],[0.1399,-0.063],[0.1454,0.024],[0.1509,-0.011],[0.1551,0.046]];
const orangeRes = [[-0.1549,-0.119],[-0.1519,0.094],[-0.1489,-0.033],[-0.1458,0.172],[-0.1427,-0.062],[-0.1396,0.043],[-0.1366,-0.189],
  [-0.1335,0.021],[-0.1304,0.118],[-0.1273,-0.071],[-0.1243,0.056],[-0.1212,-0.013],[-0.1181,0.147],[-0.1151,-0.098],[-0.1120,0.032],
  [-0.1089,-0.046],[-0.1058,0.081],[-0.1028,-0.158],[-0.0997,0.014],[-0.0966,0.109],[-0.0935,-0.054],[-0.0905,0.067],[-0.0874,-0.126],
  [-0.0843,0.038],[-0.0812,-0.021],[-0.0782,0.153],[-0.0751,-0.089],[-0.0720,0.049],[-0.0689,-0.197],[-0.0659,0.072],[-0.0628,-0.037],
  [-0.0597,0.126],[-0.0566,-0.068],[-0.0536,0.019],[-0.0505,-0.112],[-0.0474,0.084],[-0.0443,-0.026],[-0.0413,0.137],[-0.0322,-0.061],
  [-0.0254,0.039],[-0.0176,-0.084],[-0.0083,0.057],[0.0021,-0.017],[0.0114,0.092],[0.0204,-0.047],[0.0311,0.066],[0.0366,-0.134],
  [0.0421,0.027],[0.0477,-0.073],[0.0532,0.119],[0.0588,-0.156],[0.0643,0.043],[0.0699,-0.022],[0.0754,0.088],[0.0810,-0.161],
  [0.0865,0.061],[0.0921,-0.094],[0.0976,0.147],[0.1032,-0.041],[0.1087,0.072],[0.1143,-0.137],[0.1198,0.031],[0.1254,-0.066],
  [0.1309,0.219],[0.1365,-0.023],[0.1420,0.102],[0.1476,-0.087],[0.1531,0.078],
  [-0.1534,0.027],[-0.1474,-0.049],[-0.1412,0.061],[-0.1350,-0.023],[-0.1289,0.014],[-0.1227,-0.066],[-0.1166,0.048],[-0.1104,-0.011],
  [-0.1043,0.029],[-0.0981,-0.041],[-0.0920,0.069],[-0.0858,-0.032],[-0.0797,0.011],[-0.0735,-0.058],[-0.0674,0.037],[-0.0612,-0.004],
  [-0.0551,0.053],[-0.0489,-0.044],[-0.0428,0.019],[-0.0367,-0.028],[-0.0287,0.056],[-0.0131,-0.037],[0.0068,0.024],[0.0257,-0.053],
  [0.0339,0.012],[0.0394,-0.027],[0.0449,0.064],[0.0505,-0.046],[0.0560,0.031],[0.0616,-0.009],[0.0671,0.047],[0.0727,-0.063],
  [0.0782,0.018],[0.0838,-0.031],[0.0893,0.057],[0.0949,-0.018],[0.1004,0.036],[0.1060,-0.054],[0.1115,0.009],[0.1171,0.061],
  [0.1226,-0.039],[0.1282,0.022],[0.1337,-0.064],[0.1393,0.043],[0.1448,-0.006],[0.1504,0.029],[0.1555,-0.047]];
const purpleRes = [[-0.1542,-0.161],[-0.1513,0.129],[-0.1485,-0.052],[-0.1456,0.211],[-0.1427,-0.098],[-0.1398,0.067],[-0.1369,-0.253],
  [-0.1341,0.104],[-0.1312,-0.031],[-0.1283,0.173],[-0.1254,-0.146],[-0.1226,0.048],[-0.1197,-0.207],[-0.1168,0.139],[-0.1139,-0.072],
  [-0.1111,0.091],[-0.1082,-0.182],[-0.1053,0.026],[-0.1024,0.162],[-0.0996,-0.117],[-0.0967,0.071],[-0.0938,-0.283],[-0.0909,0.118],
  [-0.0881,-0.043],[-0.0852,0.197],[-0.0823,-0.131],[-0.0794,0.059],[-0.0766,-0.226],[-0.0737,0.143],[-0.0708,-0.067],[-0.0679,0.102],
  [-0.0651,-0.169],[-0.0622,0.034],[-0.0593,0.228],[-0.0564,-0.094],[-0.0536,0.077],[-0.0507,-0.241],[-0.0478,0.121],[-0.0449,-0.022],
  [-0.0421,0.168],[-0.0392,-0.137],[-0.0326,0.061],[-0.0271,-0.112],[-0.0208,0.093],[-0.0118,-0.058],[-0.0024,0.131],[0.0069,-0.087],
  [0.0164,0.042],[0.0243,-0.163],[0.0321,0.118],[0.0376,-0.074],[0.0432,0.182],[0.0487,-0.213],[0.0543,0.097],[0.0598,-0.048],
  [0.0654,0.214],[0.0709,-0.139],[0.0765,0.063],[0.0820,-0.224],[0.0876,0.151],[0.0931,-0.082],[0.0987,0.248],[0.1042,-0.287],
  [0.1098,0.109],[0.1153,-0.051],[0.1209,0.196],[0.1264,-0.176],[0.1320,0.073],[0.1375,-0.119],[0.1431,0.234],[0.1486,-0.091],
  [0.1542,0.171],
  [-0.1527,0.043],[-0.1470,-0.081],[-0.1413,0.096],[-0.1355,-0.024],[-0.1298,0.061],[-0.1240,-0.092],[-0.1183,0.017],[-0.1125,-0.046],
  [-0.1068,0.083],[-0.1010,-0.011],[-0.0953,0.054],[-0.0895,-0.077],[-0.0838,0.028],[-0.0780,-0.038],[-0.0723,0.092],[-0.0665,-0.059],
  [-0.0608,0.009],[-0.0550,-0.084],[-0.0493,0.046],[-0.0435,0.071],[-0.0378,-0.029],[-0.0242,0.038],[-0.0071,-0.067],[0.0117,0.054],
  [0.0348,-0.036],[0.0404,0.073],[0.0459,-0.094],[0.0515,0.027],[0.0570,-0.012],[0.0626,0.088],[0.0681,-0.061],[0.0737,0.039],
  [0.0792,-0.081],[0.0848,0.012],[0.0903,0.067],[0.0959,-0.047],[0.1014,0.094],[0.1070,-0.023],[0.1125,0.049],[0.1181,-0.073],
  [0.1236,0.081],[0.1292,-0.037],[0.1347,0.018],[0.1403,-0.088],[0.1458,0.064],[0.1514,-0.028]];
const aavsoBlackRes = [[-0.0238,0.043],[-0.0211,-0.172],[-0.0183,0.118],[-0.0117,-0.083],[-0.0089,0.224],[-0.0053,-0.288],[-0.0044,0.061],
  [-0.0026,0.151],[-0.0017,-0.133],[0.0003,0.297],[0.0013,-0.041],[0.0041,-0.289],[0.0066,0.172],[0.0096,-0.238],[0.0120,0.026],
  [0.0160,-0.109],[0.0180,0.196],[0.0208,-0.182],[0.0225,0.078],[0.0254,0.263],[0.0281,-0.277],[0.0287,0.138],[0.0346,-0.054],
  [0.0402,0.099],[0.0441,0.236],[0.0450,-0.163],[0.0457,0.214]];
const aavsoBlueRes = [[-0.0301,0.214],[-0.0292,-0.167],[-0.0284,0.093],[-0.0275,-0.289],[-0.0266,0.318],[-0.0257,-0.046],[-0.0248,0.183],
  [-0.0239,-0.231],[-0.0230,0.041],[-0.0221,-0.118],[-0.0212,0.264],[-0.0203,-0.302],[-0.0194,0.127],[-0.0185,-0.071],[-0.0176,0.296],
  [-0.0167,-0.194],[-0.0158,0.012],[-0.0149,-0.258],[-0.0140,0.162],[-0.0131,-0.097],[-0.0122,0.231],[-0.0113,-0.324],[-0.0104,0.078],
  [-0.0095,-0.143],[-0.0086,0.308],[-0.0077,-0.214],[0.0056,0.253],[0.0064,-0.121],[0.0072,0.047],[0.0080,-0.276],[0.0088,0.188],
  [0.0096,-0.039],[0.0104,0.321],[0.0112,-0.197],[0.0120,0.106],[0.0128,-0.084],[0.0136,0.277],[0.0144,-0.248],[0.0152,0.021],
  [0.0160,-0.162],[0.0168,0.214],[0.0176,-0.306],[0.0184,0.138],[0.0192,-0.058],[0.0200,0.296],[0.0208,-0.227],[0.0216,0.081],
  [0.0224,-0.131]];
const aavsoGreenRes = [[-0.0457,0.127],[-0.0451,-0.243],[-0.0446,0.301],[-0.0440,-0.087],[-0.0435,0.196],[-0.0429,-0.312],[-0.0424,0.042],
  [-0.0418,-0.168],[-0.0413,0.263],[-0.0407,-0.021],[-0.0402,0.329],[-0.0396,-0.214],[-0.0391,0.108],[-0.0385,-0.277],[-0.0380,0.157],
  [-0.0374,-0.054],[-0.0369,0.234],[-0.0363,-0.136],[-0.0358,0.019],[-0.0352,-0.298],[-0.0347,0.281],[-0.0341,-0.102],[-0.0336,0.173],
  [-0.0330,-0.229],[-0.0325,0.064],[-0.0319,-0.183],[-0.0314,0.312],[-0.0308,-0.037],[-0.0303,0.218],[-0.0297,-0.259],[-0.0292,0.095],
  [-0.0271,-0.146],[-0.0250,0.247],[-0.0228,-0.321],[-0.0203,0.137],[-0.0182,-0.068],[-0.0151,0.289],[-0.0126,-0.227],[-0.0097,0.072],
  [-0.0065,-0.134],[-0.0030,0.183],[0.0009,-0.297],[0.0042,0.039],[0.0075,-0.172],[0.0107,0.256],[0.0138,-0.083],[0.0169,0.307],
  [0.0198,-0.248],[0.0227,0.116],[0.0253,-0.191],[0.0275,0.287],[0.0281,-0.142],[0.0287,0.059],[0.0293,-0.306],[0.0299,0.224],
  [0.0305,-0.031],[0.0311,0.329],[0.0317,-0.207],[0.0323,0.143],[0.0329,-0.089],[0.0335,0.271],[0.0341,-0.263],[0.0347,0.018],
  [0.0353,-0.158],[0.0359,0.198],[0.0365,-0.318],[0.0371,0.092],[0.0377,-0.047],[0.0383,0.243],[0.0389,-0.187],[0.0395,0.312],
  [0.0401,-0.112],[0.0407,0.066],[0.0413,-0.274],[0.0419,0.167],[0.0425,-0.023],[0.0431,0.296],[0.0437,-0.221],[0.0443,0.124],
  [0.0449,-0.079],[0.0455,0.253],[0.0461,-0.151]];

// ---------- layout: designed on a 4242 x 3192 sheet, scaled to fill the viewport ----------
const VW = document.documentElement.clientWidth || window.innerWidth || 4242;
const VH = document.documentElement.clientHeight || window.innerHeight || 3192;
const SX = VW / 4242;
let SY = VH / 3192;
if (!(SY > 0.8 * SX && SY < 1.25 * SX)) SY = SX;
const px = v => v * SX;   // horizontal distances, sizes, fonts
const py = v => v * SY;   // vertical positions
const chartDom = document.getElementById('chart');
chartDom.style.width = px(4242) + 'px';
chartDom.style.height = py(3192) + 'px';

const FONT = 'DejaVu Sans';
const X_MIN = -0.1557, X_MAX = 0.1562;
const F_MIN = 0.98733, F_MAX = 1.00340;
const R_MIN = -0.341, R_MAX = 0.341;

const SYM = {
  circle: 'circle',
  down: 'path://M-15,-13L15,-13L0,15Z',
  up: 'path://M0,-15L15,13L-15,13Z',
  left: 'path://M-15,0L13,-15L13,15Z',
  right: 'path://M15,0L-13,15L-13,-15Z',
  square: 'path://M-15,-15L15,-15L15,15L-15,15Z',
  star: 'path://M0,-15L3.53,-4.86L14.27,-4.64L5.71,1.85L8.82,12.14L0,6L-8.82,12.14L-5.71,1.85L-14.27,-4.64L-3.53,-4.86Z',
  hexV: 'path://M0,-15L12.99,-7.5L12.99,7.5L0,15L-12.99,7.5L-12.99,-7.5Z',
  hexH: 'path://M-15,0L-7.5,-12.99L7.5,-12.99L15,0L7.5,12.99L-7.5,12.99Z'
};
const BAR = 'M-3,-21L3,-21L3,21L-3,21Z';
const ICON = {
  circle: 'path://M-15,0A15,15 0 1,1 15,0A15,15 0 1,1 -15,0Z' + BAR,
  down: SYM.down + BAR, up: SYM.up + BAR, left: SYM.left + BAR, right: SYM.right + BAR,
  square: SYM.square + BAR, star: SYM.star + BAR, hexV: SYM.hexV + BAR, hexH: SYM.hexH + BAR
};

const MODEL_NAME = 'transit model';
const BINNED_NAME = 'Binned Data: 0.09 %';
const zw = n => '\u200b'.repeat(n);

const withErr = (xs, ys, e) => xs.map((x, i) => [x, ys[i], e]);

const datasets = [
  { name: 'AAVSO: 0.67 %', color: '#000000', sym: 'circle', size: 30, raw: aavsoBlackRaw, rawErr: 0.006, rawBar: 0.07,
    res: aavsoBlackRes, bin: aavsoBlackBin, col: 1 },
  { name: 'AAVSO: 0.98 %', color: '#0000ff', sym: 'down', size: 30, raw: aavsoBlueRaw, rawErr: 0.009, rawBar: 0.11,
    res: aavsoBlueRes, bin: aavsoBlueBin, col: 1 },
  { name: 'AAVSO: 0.38 %', color: '#008000', sym: 'up', size: 30, raw: aavsoGreenRaw, rawErr: 0.005, rawBar: 0.1,
    res: aavsoGreenRes, bin: aavsoGreenBin, col: 1 },
  { name: 'TESS: 0.07 %', color: '#ffa500', sym: 'left', size: 30, raw: orangeRaw, rawErr: 0.0009, rawBar: 0.15,
    res: orangeRes, bin: withErr(binPhase, orangeBin, 0.00012), col: 1 },
  { name: 'TESS: 0.10 %', color: '#800080', sym: 'right', size: 30, raw: purpleRaw, rawErr: 0.0013, rawBar: 0.15,
    res: purpleRes, bin: withErr(binPhase, purpleBin, 0.00028), col: 1 },
  { name: 'TESS: 0.07 %' + zw(1), color: '#808080', sym: 'square', size: 26, raw: greyRaw, rawErr: 0.0009, rawBar: 0.15,
    res: greyRes, bin: withErr(binPhase, greyBin, 0.00012), col: 2 },
  { name: 'TESS: 0.07 %' + zw(2), color: '#ff00ff', sym: 'star', size: 30, raw: magentaRaw, rawErr: 0.0009, rawBar: 0.15,
    res: magentaRes, bin: withErr(binPhase, magentaBin, 0.00012), col: 2 },
  { name: 'TESS: 0.07 %' + zw(3), color: '#00ffff', sym: 'hexH', size: 30, raw: cyanRaw, rawErr: 0.0009, rawBar: 0.15,
    res: cyanRes, bin: withErr(binPhase, cyanBin, 0.00012), col: 2 },
  { name: 'TESS: 0.07 %' + zw(4), color: '#00ff00', sym: 'hexV', size: 30, raw: limeRaw, rawErr: 0.0009, rawBar: 0.15,
    res: limeRes, bin: withErr(binPhase, limeBin, 0.00012), col: 2 }
];

function rgba(hex, a) {
  const n = parseInt(hex.slice(1), 16);
  return 'rgba(' + ((n >> 16) & 255) + ',' + ((n >> 8) & 255) + ',' + (n & 255) + ',' + a + ')';
}

function errorBars(data, color, width, z, g) {
  return {
    type: 'custom', xAxisIndex: g, yAxisIndex: g, z: z, silent: true,
    data: data,
    encode: { x: 0, y: 1 },
    renderItem: function (params, api) {
      const x = api.value(0), y = api.value(1), e = api.value(2);
      const hi = api.coord([x, y + e]);
      const lo = api.coord([x, y - e]);
      const cs = params.coordSys;
      const y1 = Math.max(hi[1], cs.y);
      const y2 = Math.min(lo[1], cs.y + cs.height);
      if (hi[0] < cs.x || hi[0] > cs.x + cs.width || y2 <= y1) return;
      return {
        type: 'line',
        shape: { x1: hi[0], y1: y1, x2: hi[0], y2: y2 },
        style: { stroke: color, lineWidth: width }
      };
    }
  };
}

function markers(name, data, symbol, size, fill, edge, edgeW, z, g) {
  const s = {
    type: 'scatter', xAxisIndex: g, yAxisIndex: g, data: data,
    symbol: symbol, symbolSize: size, symbolKeepAspect: true,
    itemStyle: { color: fill, borderColor: edge, borderWidth: edgeW, opacity: 1 },
    z: z, silent: true
  };
  if (name) s.name = name;
  return s;
}

const series = [];
// faint unbinned data: error bars, then markers
datasets.forEach(d => {
  series.push(errorBars(d.raw.map(q => [q[0], q[1], d.rawErr]), rgba(d.color, d.rawBar), px(6), 1, 0));
});
datasets.forEach(d => {
  series.push(markers(null, d.raw, SYM[d.sym], px(d.size), rgba(d.color, 0.1), rgba(d.color, 0.14), px(3), 2, 0));
  series.push(markers(null, d.res, SYM[d.sym], px(d.size), rgba(d.color, 0.2), rgba(d.color, 0.3), px(3), 2, 1));
});
// per-dataset bins
datasets.forEach(d => {
  series.push(errorBars(d.bin, d.color, px(6), 3, 0));
  series.push(markers(d.name, d.bin, SYM[d.sym], px(d.size), d.color, d.color, 0, 4, 0));
});
// transit model
series.push({
  type: 'line', name: MODEL_NAME, xAxisIndex: 0, yAxisIndex: 0, data: modelCurve,
  showSymbol: false, symbol: 'none', smooth: false, z: 5, silent: true,
  lineStyle: { color: '#ff0000', width: px(11), join: 'round' }, itemStyle: { color: '#ff0000' }
});
// all-data bins
series.push(errorBars(binnedPhase.map((x, i) => [x, binnedFlux[i], binnedErr[i]]), '#000000', px(4), 6, 0));
series.push(markers(BINNED_NAME, binnedPhase.map((x, i) => [x, binnedFlux[i]]), 'circle', px(63), '#ffffff', '#000000', px(4), 7, 0));
series.push(markers(null, binnedPhase.map((x, i) => [x, binnedResid[i]]), 'circle', px(63), '#ffffff', '#000000', px(4), 7, 1));

const minus = s => s.replace('-', '\u2212');
const axisTextStyle = { fontSize: px(40), color: '#000000', fontFamily: FONT };
const nameStyle = { fontSize: px(56), color: '#000000', fontFamily: FONT };
const gridLine = { show: true, lineStyle: { color: '#aaaaaa', width: px(3), type: [px(12), px(6)] } };
const tickStyle = { lineStyle: { color: '#000000', width: px(3) } };

const modelLabel = '{it|R}{sup|2}{sub|p}{n|/}{it|R}{sup|2}{sub|s}{n| = 0.009273 \u00b1 7.3e-05}\n' +
  '{it|T}{sub|mid}{n| = 2460023.62964 \u00b1 0.00022 BJD}{sub|TDB}';

const legendBase = {
  orient: 'vertical', padding: 0, z: 110, selectedMode: false,
  formatter: name => name.replace(/\u200b/g, ''),
  textStyle: { fontSize: px(40), color: '#000000', fontFamily: FONT, lineHeight: px(42) }
};
// marker icons are centred in a 140 wide slot; the legend box starts at the icon's left edge
const ROW = 62.5;

const option = {
  animation: false,
  backgroundColor: '#ffffff',
  textStyle: { fontFamily: FONT },
  grid: [
    { left: px(252), top: py(29), width: px(3960), height: py(2241), show: true, borderColor: '#000000', borderWidth: px(3),
      outerBoundsMode: 'none' },
    { left: px(252), top: py(2270), width: px(3960), height: py(747), show: true, borderColor: '#000000', borderWidth: px(3),
      outerBoundsMode: 'none' }
  ],
  xAxis: [
    { gridIndex: 0, type: 'value', min: X_MIN, max: X_MAX,
      axisLine: { show: false }, axisTick: { show: false }, axisLabel: { show: false }, splitLine: { show: false } },
    { gridIndex: 1, type: 'value', min: X_MIN, max: X_MAX,
      name: 'Phase', nameLocation: 'middle', nameGap: py(94), nameTextStyle: nameStyle,
      axisLine: { show: false },
      axisTick: Object.assign({ show: true, length: py(15), customValues: xTicks }, tickStyle),
      axisLabel: Object.assign({ margin: py(26), customValues: xTicks,
        formatter: v => minus(v.toFixed(2)) }, axisTextStyle),
      splitLine: { show: false } }
  ],
  yAxis: [
    { gridIndex: 0, type: 'value', min: F_MIN, max: F_MAX,
      name: 'Relative Flux', nameLocation: 'middle', nameGap: px(165), nameTextStyle: nameStyle,
      axisLine: { show: false },
      axisTick: Object.assign({ show: true, length: px(15), customValues: fluxTicks }, tickStyle),
      axisLabel: Object.assign({ margin: px(33), customValues: fluxTicks, formatter: v => v.toFixed(3) }, axisTextStyle),
      splitLine: gridLine },
    { gridIndex: 1, type: 'value', min: R_MIN, max: R_MAX,
      name: 'Residuals [%]', nameLocation: 'middle', nameGap: px(150), nameTextStyle: nameStyle,
      axisLine: { show: false },
      axisTick: Object.assign({ show: true, length: px(15), customValues: residTicks }, tickStyle),
      axisLabel: Object.assign({ margin: px(33), customValues: residTicks,
        formatter: v => Math.abs(v) < 1e-9 ? '0.0' : minus(v.toFixed(1)) }, axisTextStyle),
      splitLine: gridLine }
  ],
  graphic: [{
    type: 'rect', z: 100, silent: true,
    shape: { x: px(2560), y: py(1789), width: px(1631), height: py(458), r: px(10) },
    style: { fill: 'rgba(255,255,255,0.8)', stroke: '#cccccc', lineWidth: px(3) }
  }],
  legend: [
    Object.assign({}, legendBase, {
      left: px(2567), top: py(1865) - px(62), itemWidth: px(98), itemHeight: px(12),
      data: [{ name: MODEL_NAME, icon: 'rect', itemStyle: { color: '#ff0000', borderWidth: 0 } }],
      formatter: () => modelLabel,
      textStyle: {
        fontSize: px(40), color: '#000000', fontFamily: FONT, padding: [0, 0, 0, px(22)],
        rich: {
          n: { fontSize: px(40), lineHeight: px(62), fontFamily: FONT },
          it: { fontSize: px(40), lineHeight: px(62), fontStyle: 'italic', fontFamily: FONT },
          sup: { fontSize: px(27), lineHeight: px(30), padding: [0, 0, px(30), 0], fontFamily: FONT },
          sub: { fontSize: px(27), lineHeight: px(30), padding: [px(26), 0, 0, 0], fontStyle: 'italic', fontFamily: FONT }
        }
      }
    }),
    Object.assign({}, legendBase, {
      left: px(2601), top: py(1957) - px(21), itemWidth: px(140), itemHeight: px(42), itemGap: py(ROW) - px(42),
      data: datasets.filter(d => d.col === 1).map(d => ({ name: d.name, icon: ICON[d.sym] }))
    }),
    Object.assign({}, legendBase, {
      left: px(3655), top: py(1865) - px(21), itemWidth: px(140), itemHeight: px(42), itemGap: py(62.75) - px(42),
      data: datasets.filter(d => d.col === 2).map(d => ({ name: d.name, icon: ICON[d.sym] }))
    }),
    Object.assign({}, legendBase, {
      left: px(3636.5), top: py(2115) - px(33.5), itemWidth: px(140), itemHeight: px(63),
      itemStyle: { color: '#ffffff', borderColor: '#000000', borderWidth: px(4) },
      data: [{ name: BINNED_NAME, icon: 'circle' }]
    })
  ],
  series: series
};

const chart = echarts.init(chartDom, null, { renderer: 'canvas' });
chart.setOption(option);
</script>
</body>
</html>
